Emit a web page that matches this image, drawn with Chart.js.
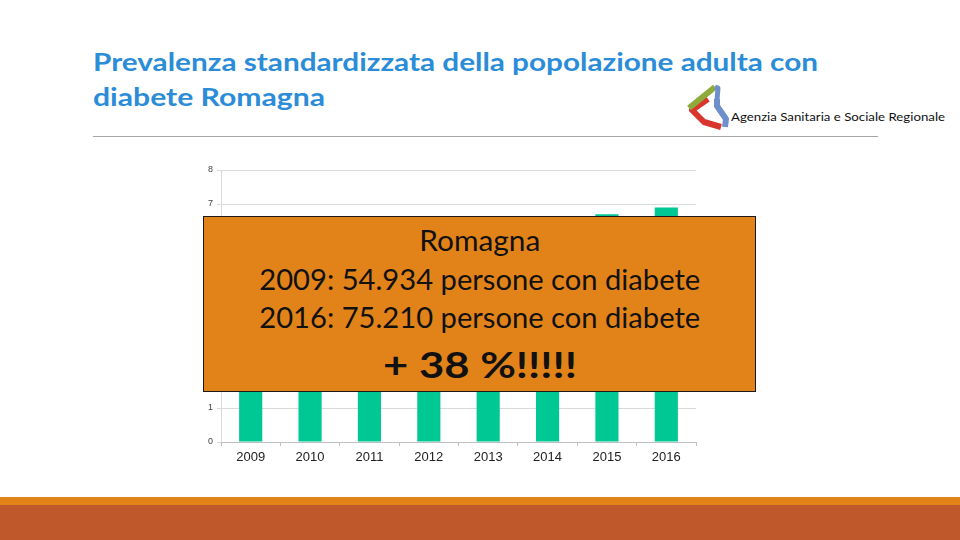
<!DOCTYPE html>
<html>
<head>
<meta charset="utf-8">
<script src="https://cdn.jsdelivr.net/npm/chart.js@4/dist/chart.umd.min.js"></script>
<style>
  html,body{margin:0;padding:0;background:#fff;}
  #slide{position:relative;width:960px;height:540px;overflow:hidden;background:#fff;font-family:Lato,"Open Sans",sans-serif;}
  .t{position:absolute;white-space:nowrap;transform-origin:0 50%;}
  .c{position:absolute;white-space:nowrap;transform-origin:50% 50%;}
  #chartWrap{position:absolute;left:160px;top:150px;width:560px;height:330px;}
  #box{position:absolute;left:203px;top:216px;width:551px;height:174px;background:#E2831A;border:1.5px solid #1a1a1a;}
</style>
</head>
<body>
<div id="slide">
  <div class="t fit" data-w="725" style="left:93px;top:62px;font-size:24px;font-weight:bold;color:#2B8CD8;line-height:30px;margin-top:-15px;">Prevalenza standardizzata della popolazione adulta con</div>
  <div class="t fit" data-w="232" style="left:93px;top:97px;font-size:24px;font-weight:bold;color:#2B8CD8;line-height:30px;margin-top:-15px;">diabete Romagna</div>
  <div style="position:absolute;left:93px;top:136px;width:785px;height:1px;background:#a6a6a6;"></div>
  <svg style="position:absolute;left:684px;top:82px;" width="48" height="52" viewBox="0 0 48 52">
    <polyline points="33,17 33,24 42,37 41,45" fill="none" stroke="#6D8FCB" stroke-width="6" stroke-linejoin="round"/>
    <polyline points="24,17 8,28 20,40 37,45" fill="none" stroke="#D9352C" stroke-width="6" stroke-linejoin="round"/>
    <polyline points="5,26 31,5" fill="none" stroke="#8DAA3A" stroke-width="6"/>
    <polyline points="31,5 34,6 33,18" fill="none" stroke="#6D8FCB" stroke-width="5" stroke-linejoin="round"/>
  </svg>
  <div class="t fit" data-w="214" style="left:731px;top:117px;font-size:12px;color:#111;line-height:16px;margin-top:-8px;">Agenzia Sanitaria e Sociale Regionale</div>

  <div id="chartWrap"><canvas id="chart" width="560" height="330"></canvas></div>

  <div id="box"></div>
  <div class="c fit" data-w="121" style="left:480px;top:240px;font-size:28px;color:#111;">Romagna</div>
  <div class="c fit" data-w="441" style="left:480px;top:279px;font-size:28px;color:#111;">2009: 54.934 persone con diabete</div>
  <div class="c fit" data-w="441" style="left:480px;top:317px;font-size:28px;color:#111;">2016: 75.210 persone con diabete</div>
  <div class="c fit" data-w="194" style="left:480px;top:364px;font-size:36px;font-weight:bold;color:#111;">+ 38 %!!!!!</div>

  <div style="position:absolute;left:0;top:497px;width:960px;height:8px;background:#E2831A;"></div>
  <div style="position:absolute;left:0;top:505px;width:960px;height:35px;background:#BF592C;"></div>
</div>
<script>
const categories = ['2009','2010','2011','2012','2013','2014','2015','2016'];
const prevalence = [5.3, 5.6, 5.9, 6.1, 6.3, 6.5, 6.7, 6.9];
const yTickValues = [0,1,2,3,4,5,6,7,8];

// fit text widths
document.querySelectorAll('.fit').forEach(el=>{
  const target = parseFloat(el.dataset.w);
  const w = el.getBoundingClientRect().width;
  const s = target / w;
  if(el.classList.contains('c')){
    el.style.left = (parseFloat(el.style.left) - w/2) + 'px';
    el.style.lineHeight = '40px';
    el.style.marginTop = '-20px';
  }
  el.style.transform = 'scaleX(' + s + ')';
});

new Chart(document.getElementById('chart'), {
  type: 'bar',
  data: {
    labels: categories,
    datasets: [{
      data: prevalence,
      backgroundColor: '#00C894',
      categoryPercentage: 1,
      barPercentage: 0.39
    }]
  },
  options: {
    responsive: false,
    animation: false,
    layout: { padding: { top: 20, right: 24, left: 0, bottom: 0 } },
    plugins: { legend: { display: false }, tooltip: { enabled: false } },
    scales: {
      y: {
        min: 0, max: 8,
        afterBuildTicks: s => { s.ticks = yTickValues.map(v => ({ value: v })); },
        afterFit: s => { s.width = 61; },
        ticks: { font: { family: 'Arial, Liberation Sans', size: 9 }, color: '#404040', padding: 4 },
        grid: { color: '#d9d9d9', tickLength: 4 },
        border: { color: '#d9d9d9' }
      },
      x: {
        afterFit: s => { s.height = 38; },
        ticks: { font: { family: 'Arial, Liberation Sans', size: 13 }, color: '#222', padding: 4, maxRotation: 0 },
        grid: { drawOnChartArea: false, tickLength: 4, color: '#bfbfbf', offset: true },
        border: { color: '#bfbfbf' }
      }
    }
  }
});
</script>
</body>
</html>
